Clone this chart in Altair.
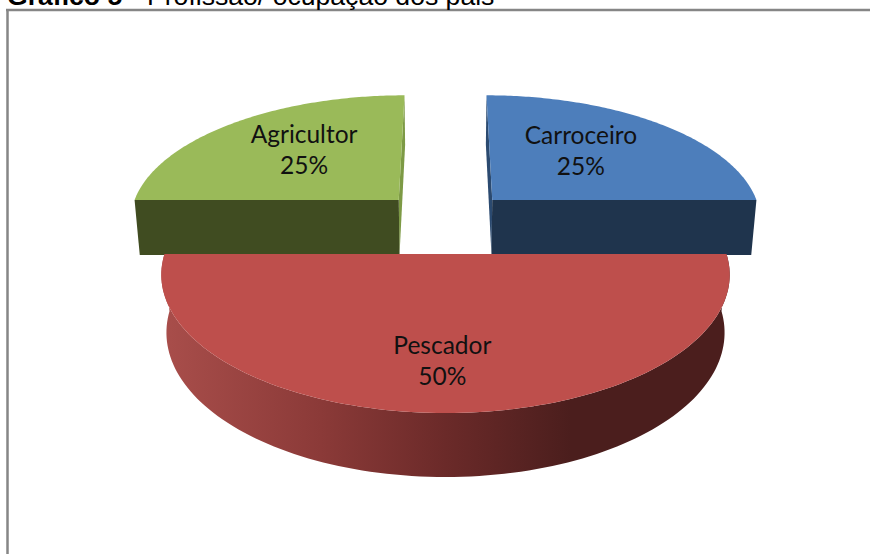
import math
import altair as alt

# Chart content
categories = ["Carroceiro", "Pescador", "Agricultor"]
shares = [25, 50, 25]
title_bold = "Gráfico 5"
title_dash = "-"
title_regular = "Profissão/ ocupação dos pais"

# Colours per slice: top face, cut faces (front, inner)
top_colors = {"Carroceiro": "#4d7ebb", "Pescador": "#be4f4c", "Agricultor": "#9aba59"}
front_colors = {"Carroceiro": "#1f344d", "Agricultor": "#404c21"}
inner_colors = {"Carroceiro": "#2b4a70", "Agricultor": "#7d9a45"}

# Explosion of each slice and centre of its label, both in disc units
explode = {"Carroceiro": (0.177, -0.425), "Pescador": (0.0, 0.0), "Agricultor": (-0.177, -0.425)}
label_anchor = {"Carroceiro": (0.544, -0.860), "Pescador": (-0.01, 0.708), "Agricultor": (-0.569, -0.868)}

WIDTH, HEIGHT = 870, 554
CX, CY = 445.5, 254.0
RX, RY = 281.0, 135.15
THICK = 58.4
TILT, SHRINK = 0.15, 0.018


def project(u, v, z=0.0):
    """Perspective view of a point on the disc; z=1 is the underside."""
    s = 1.0 / (1.0 - TILT * v + SHRINK * z)
    return CX + RX * u * s, CY + (RY * v + THICK * z) * s


def on_rim(name, angle):
    du, dv = explode[name]
    return du + math.sin(angle), dv - math.cos(angle)


def arc(name, a0, a1, z=0.0, n=120):
    return [
        project(*on_rim(name, a0 + (a1 - a0) * i / n), z)
        for i in range(n + 1)
    ]


def polygon(shape, pts):
    return [{"shape": shape, "i": i, "x": x, "y": y} for i, (x, y) in enumerate(pts + pts[:1])]


# Turn the shares into start and end angles, clockwise from the back of the disc
total = sum(shares)
angles = {}
running = 0.0
for name, share in zip(categories, shares):
    start = running
    running += 2 * math.pi * share / total
    angles[name] = (start, running)

layers = []

x_enc = alt.X("x:Q", scale=alt.Scale(domain=[0, WIDTH], nice=False, zero=False), axis=None)
y_enc = alt.Y("y:Q", scale=alt.Scale(domain=[HEIGHT, 0], nice=False, zero=False), axis=None)


def add_shape(shape, pts, fill):
    layers.append(
        alt.Chart(alt.Data(values=polygon(shape, pts)))
        .mark_line(fill=fill, stroke=None, strokeWidth=0, clip=False, interpolate="linear")
        .encode(x=x_enc, y=y_enc, order="i:Q")
    )


side_gradient = alt.Gradient(
    gradient="linear",
    x1=0, x2=1, y1=0, y2=0,
    stops=[
        alt.GradientStop(offset=0.0, color="#a94e4b"),
        alt.GradientStop(offset=0.28, color="#8b3a38"),
        alt.GradientStop(offset=0.5, color="#6b2a29"),
        alt.GradientStop(offset=0.72, color="#4b1e1d"),
        alt.GradientStop(offset=1.0, color="#4b1e1d"),
    ],
)

# The two back slices, each with its cut faces under the top face
for name in ("Agricultor", "Carroceiro"):
    a0, a1 = angles[name]
    du, dv = explode[name]
    apex_top = project(du, dv, 0)
    apex_low = project(du, dv, 1)
    straight = a0 if name == "Carroceiro" else a1   # edge running to the back
    sideways = a1 if name == "Carroceiro" else a0   # edge facing the viewer
    back_top = project(*on_rim(name, straight), 0)
    back_low = project(*on_rim(name, straight), 1)
    add_shape(name + "-inner", [back_top, apex_top, apex_low, back_low], inner_colors[name])
    side_top = project(*on_rim(name, sideways), 0)
    side_low = project(*on_rim(name, sideways), 1)
    add_shape(name + "-front", [apex_top, side_top, side_low, apex_low], front_colors[name])
    add_shape(name + "-top", [apex_top] + arc(name, a0, a1), top_colors[name])

# The front slice: curved wall first, then its top face
a0, a1 = angles["Pescador"]
add_shape(
    "Pescador-wall",
    arc("Pescador", a0, a1) + arc("Pescador", a1, a0, z=1.0),
    side_gradient,
)
add_shape("Pescador-top", [project(0, 0)] + arc("Pescador", a0, a1), top_colors["Pescador"])

# Slice labels: name on the first line, share on the second
label_rows = []
for name, share in zip(categories, shares):
    lx, ly = project(*label_anchor[name])
    label_rows.append({"x": lx, "y": ly, "text": f"{name}\n{share}%"})
labels = (
    alt.Chart(alt.Data(values=label_rows))
    .mark_text(
        font="Lato", fontSize=24.5, color="#111111", align="center",
        baseline="middle", lineBreak="\n", lineHeight=31.5, dy=-14.5,
    )
    .encode(x=x_enc, y=y_enc, text="text:N")
)

# Frame, running off the right and bottom edges
frame_top = alt.Chart(alt.Data(values=[{}])).mark_rule(color="#868686", strokeWidth=2.5).encode(
    x=alt.value(6), x2=alt.value(WIDTH), y=alt.value(10)
)
frame_left = alt.Chart(alt.Data(values=[{}])).mark_rule(color="#868686", strokeWidth=2.5).encode(
    x=alt.value(7.5), y=alt.value(10), y2=alt.value(HEIGHT)
)


# Caption above the frame, partly past the top edge of the page
def caption(text, left, weight):
    return alt.Chart(alt.Data(values=[{"t": text}])).mark_text(
        font="Liberation Sans", fontSize=26.6, fontWeight=weight, color="#000000",
        align="left", baseline="alphabetic",
    ).encode(x=alt.value(left), y=alt.value(4.5), text="t:N")


chart = (
    alt.layer(
        frame_top, frame_left,
        caption(title_bold, 7, "bold"),
        caption(title_dash, 128, "normal"),
        caption(title_regular, 147, "normal"),
        *layers, labels,
    )
    .properties(width=WIDTH, height=HEIGHT, padding=0, background="white",
                autosize=alt.AutoSizeParams(type="none"))
    .configure_view(stroke=None)
)

chart.save("out.html", embed_options={"renderer": "svg", "actions": False})
